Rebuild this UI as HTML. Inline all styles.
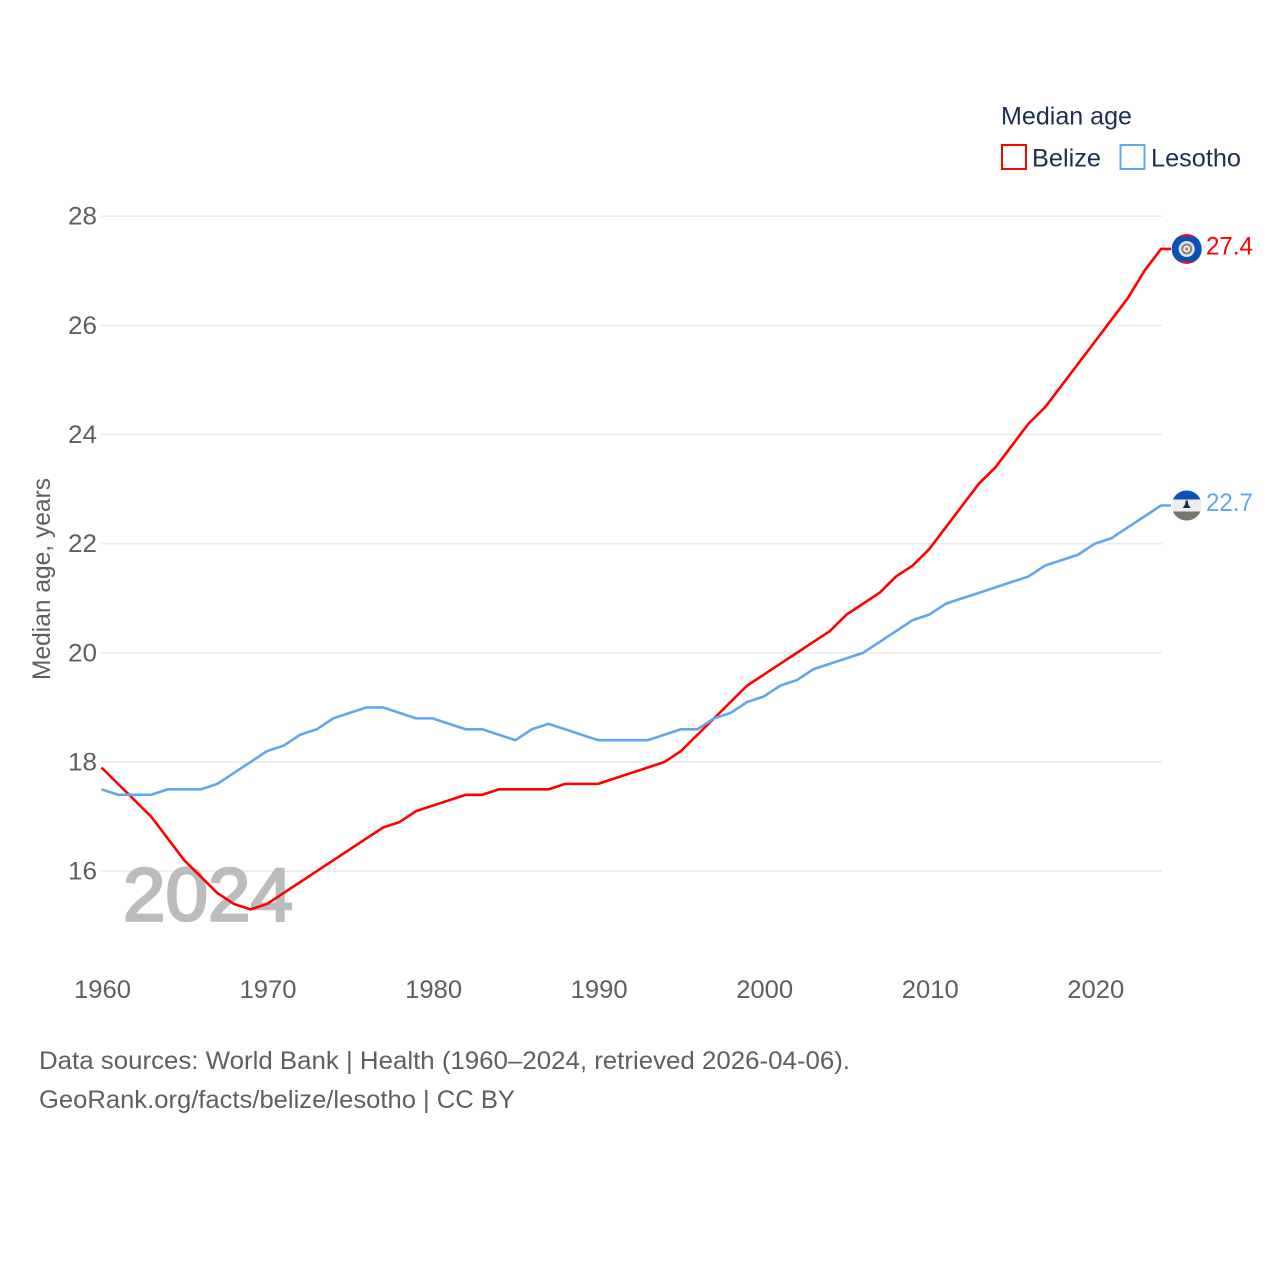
<!DOCTYPE html>
<html lang="en">
<head>
<meta charset="utf-8">
<title>Median age: Belize and Lesotho</title>
<style>
html,body{margin:0;padding:0;background:#fff;}
svg{display:block;}
text{font-family:"Liberation Sans",sans-serif;}
</style>
</head>
<body>
<svg id="chart" xmlns="http://www.w3.org/2000/svg" width="1280" height="1280" viewBox="0 0 1280 1280">
  <rect width="1280" height="1280" fill="#ffffff"/>
  <g id="grid"></g>
  <g id="yticks"></g>
  <g id="xticks"></g>
  <text x="123" y="920.500" font-size="75" fill="#bcbcbc" stroke="#bcbcbc" stroke-width="2.500" textLength="170" lengthAdjust="spacingAndGlyphs">2024</text>
  <text transform="translate(50,680) rotate(-90)" font-size="25" fill="#5f5f5f" textLength="202" lengthAdjust="spacingAndGlyphs">Median age, years</text>
  <g id="series"></g>

  <g id="belize-flag">
    <clipPath id="clip-bz"><circle id="bz-clip-c" r="15"/></clipPath>
    <g clip-path="url(#clip-bz)">
      <rect id="bz-red" width="30" height="30" fill="#e8112d"/>
      <rect id="bz-blue" width="30" height="25" fill="#0a52b8"/>
    </g>
    <circle id="bz-c1" r="8" fill="#e4e4e4"/>
    <circle id="bz-c2" r="5.5" fill="#85857f"/>
    <circle id="bz-c3" r="3.5" fill="#f0ece6"/>
    <circle id="bz-c4" r="1.6" fill="#d9706a"/>
  </g>
  <g id="lesotho-flag">
    <clipPath id="clip-ls"><circle id="ls-clip-c" r="15"/></clipPath>
    <g clip-path="url(#clip-ls)">
      <rect id="ls-white" width="30" height="30" fill="#ededed"/>
      <rect id="ls-blue" width="30" height="9" fill="#0a52b8"/>
      <rect id="ls-green" width="30" height="9" fill="#73786c"/>
    </g>
    <path id="ls-hat" d="M-1,-5 L1,-5 L1.5,-1 L4,2.5 L-4,2.5 L-1.5,-1 Z" fill="#16294d"/>
  </g>

  <g id="value-labels"></g>

  <g>
    <text x="1001" y="124.500" font-size="25" fill="#1b2f50" textLength="131" lengthAdjust="spacingAndGlyphs">Median age</text>
    <rect x="1002" y="145" width="24" height="24" fill="#ffffff" stroke="#ff0000" stroke-width="2"/>
    <text x="1032" y="166.500" font-size="25" fill="#1b2f50" textLength="69" lengthAdjust="spacingAndGlyphs">Belize</text>
    <rect x="1120.500" y="145" width="24" height="24" fill="#ffffff" stroke="#63a6ee" stroke-width="2"/>
    <text x="1151" y="166.500" font-size="25" fill="#1b2f50" textLength="90" lengthAdjust="spacingAndGlyphs">Lesotho</text>
  </g>

  <text x="39" y="1069" font-size="25" fill="#5f5f5f" textLength="811" lengthAdjust="spacingAndGlyphs">Data sources: World Bank | Health (1960–2024, retrieved 2026-04-06).</text>
  <text x="39" y="1108" font-size="25" fill="#5f5f5f" textLength="476" lengthAdjust="spacingAndGlyphs">GeoRank.org/facts/belize/lesotho | CC BY</text>
</svg>
<script>
const startYear = 1960;
const belize = [17.9,17.6,17.3,17.0,16.6,16.2,15.9,15.6,15.4,15.3,15.4,15.6,15.8,16.0,16.2,16.4,16.6,16.8,16.9,17.1,17.2,17.3,17.4,17.4,17.5,17.5,17.5,17.5,17.6,17.6,17.6,17.7,17.8,17.9,18.0,18.2,18.5,18.8,19.1,19.4,19.6,19.8,20.0,20.2,20.4,20.7,20.9,21.1,21.4,21.6,21.9,22.3,22.7,23.1,23.4,23.8,24.2,24.5,24.9,25.3,25.7,26.1,26.5,27.0,27.4];
const lesotho = [17.5,17.4,17.4,17.4,17.5,17.5,17.5,17.6,17.8,18.0,18.2,18.3,18.5,18.6,18.8,18.9,19.0,19.0,18.9,18.8,18.8,18.7,18.6,18.6,18.5,18.4,18.6,18.7,18.6,18.5,18.4,18.4,18.4,18.4,18.5,18.6,18.6,18.8,18.9,19.1,19.2,19.4,19.5,19.7,19.8,19.9,20.0,20.2,20.4,20.6,20.7,20.9,21.0,21.1,21.2,21.3,21.4,21.6,21.7,21.8,22.0,22.1,22.3,22.5,22.7];
const yTicks = [16,18,20,22,24,26,28];
const xTicks = [1960,1970,1980,1990,2000,2010,2020];

const NS = 'http://www.w3.org/2000/svg';
function xScale(year){ return 101.5 + (year - 1960) * (1161 - 101.5) / 64; }
function yScale(v){ return 871.2 - (v - 16) * (871.2 - 216.2) / 12; }
function make(tag, attrs, parent, txt){
  const el = document.createElementNS(NS, tag);
  for (const k in attrs) el.setAttribute(k, attrs[k]);
  if (txt !== undefined) el.textContent = txt;
  parent.appendChild(el);
  return el;
}
const gridG = document.getElementById('grid');
const yG = document.getElementById('yticks');
const xG = document.getElementById('xticks');
const seriesG = document.getElementById('series');
const valueG = document.getElementById('value-labels');

yTicks.forEach(function(t){
  const line = make('line', {x1:101, x2:1162, y1:yScale(t), y2:yScale(t), stroke:'#ececec', 'stroke-width':1.6}, gridG);
  
  
  const label = make('text', {x:97, y:yScale(t)+8.5, 'text-anchor':'end', 'font-size':25, fill:'#5f5f5f', textLength:29, lengthAdjust:'spacingAndGlyphs'}, yG, String(t));
  
  
});
xTicks.forEach(function(t){
  const label = make('text', {x:xScale(t)+1, y:998, 'text-anchor':'middle', 'font-size':25, fill:'#5f5f5f', textLength:57, lengthAdjust:'spacingAndGlyphs'}, xG, String(t));
  
  
});
function pathFor(vals){
  return vals.map(function(v,i){ return (i ? 'L' : 'M') + xScale(startYear + i).toFixed(2) + ',' + yScale(v).toFixed(2); }).join(' ');
}
function drawSeries(vals, color, key){
  const last = vals[vals.length - 1];
  const lastX = xScale(startYear + vals.length - 1);
  const lastY = yScale(last);
  const p = make('path', {d:pathFor(vals) + ' L' + (lastX + 10).toFixed(2) + ',' + lastY.toFixed(2), fill:'none', stroke:color, 'stroke-width':2.6, 'stroke-linejoin':'round'}, seriesG);
  
  
  const t = make('text', {x:1206, y:lastY+5.5, 'font-size':25, fill:color, textLength:47, lengthAdjust:'spacingAndGlyphs'}, valueG, last.toFixed(1));
  
  
  return lastY;
}
const bzY = drawSeries(belize, '#ff0000', 'belize');
const lsY = drawSeries(lesotho, '#63a6ee', 'lesotho');

const flagX = 1186.7;
function setAttrs(id, attrs){ const el = document.getElementById(id); for (const k in attrs) el.setAttribute(k, attrs[k]); }
setAttrs('bz-clip-c', {cx:flagX, cy:bzY});
setAttrs('bz-red', {x:flagX-15, y:bzY-15});
setAttrs('bz-blue', {x:flagX-15, y:bzY-12.5});
['bz-c1','bz-c2','bz-c3','bz-c4'].forEach(function(id){ setAttrs(id, {cx:flagX, cy:bzY}); });
setAttrs('ls-clip-c', {cx:flagX, cy:lsY});
setAttrs('ls-white', {x:flagX-15, y:lsY-15});
setAttrs('ls-blue', {x:flagX-15, y:lsY-15});
setAttrs('ls-green', {x:flagX-15, y:lsY+6});
setAttrs('ls-hat', {transform:'translate(' + flagX + ',' + lsY + ')'});
</script>
</body>
</html>
